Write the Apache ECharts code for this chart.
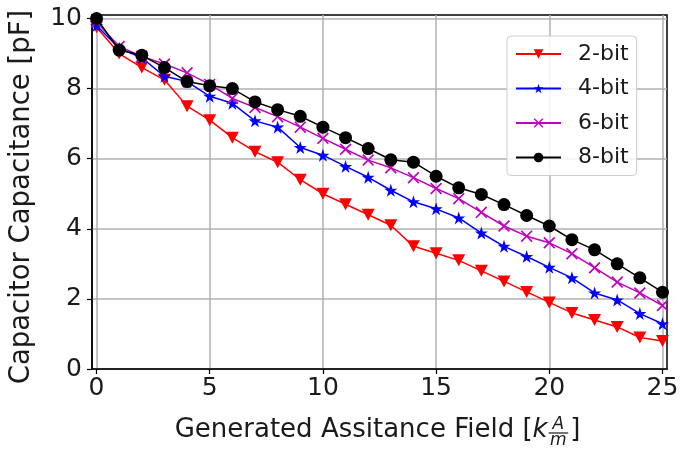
<!DOCTYPE html>
<html>
<head>
<meta charset="utf-8">
<script src="https://cdn.jsdelivr.net/npm/echarts@6/dist/echarts.min.js"></script>
<style>html,body{margin:0;padding:0;background:#fff}#c{width:691px;height:449px}</style>
</head>
<body>
<div id="c"></div>
<script>
// ---- data ----
const fieldValues = [0,1,2,3,4,5,6,7,8,9,10,11,12,13,14,15,16,17,18,19,20,21,22,23,24,25];
const bit2 = [9.75,9.0,8.6,8.25,7.5,7.1,6.6,6.2,5.9,5.4,5.0,4.7,4.4,4.1,3.5,3.3,3.1,2.8,2.5,2.2,1.9,1.6,1.4,1.2,0.9,0.8];
const bit4 = [9.8,9.15,8.88,8.35,8.2,7.78,7.58,7.08,6.9,6.32,6.1,5.78,5.47,5.1,4.77,4.57,4.31,3.88,3.5,3.21,2.9,2.6,2.17,1.97,1.58,1.29];
const bit6 = [9.9,9.2,8.92,8.7,8.45,8.12,7.72,7.46,7.2,6.9,6.58,6.27,5.96,5.74,5.46,5.15,4.86,4.47,4.08,3.79,3.6,3.29,2.89,2.48,2.17,1.81];
const bit8 = [10.0,9.1,8.95,8.6,8.2,8.08,8.0,7.62,7.4,7.21,6.9,6.6,6.29,5.97,5.9,5.5,5.17,4.98,4.69,4.38,4.08,3.69,3.4,3.0,2.6,2.19];
const seriesNames = ['2-bit','4-bit','6-bit','8-bit'];
const xTicks = [0,5,10,15,20,25];
const yTicks = [0,2,4,6,8,10];

const FONT = '"DejaVu Sans", sans-serif';
const starPath = 'path://M0,-1 L0.2245,-0.309 L0.951,-0.309 L0.363,0.118 L0.588,0.809 L0,0.382 L-0.588,0.809 L-0.363,0.118 L-0.951,-0.309 L-0.2245,-0.309 Z';
const d = 0.2;
const xPath = 'path://M-1,' + (-1 + d) + ' L' + (-1 + d) + ',-1 L0,' + (-d) + ' L' + (1 - d) + ',-1 L1,' + (-1 + d) +
  ' L' + d + ',0 L1,' + (1 - d) + ' L' + (1 - d) + ',1 L0,' + d + ' L' + (-1 + d) + ',1 L-1,' + (1 - d) + ' L' + (-d) + ',0 Z';

function pairs(arr){ return fieldValues.map((x,i)=>[x, arr[i]]); }

const styles = [
  {color:'#ff0000', symbol:'triangle', rotate:180, size:[13,12]},
  {color:'#0000ff', symbol:starPath, rotate:0, size:13},
  {color:'#bf00bf', symbol:xPath, rotate:0, size:12},
  {color:'#000000', symbol:'circle', rotate:0, size:13}
];
const dataSets = [bit2, bit4, bit6, bit8];

// title measurement for the x-axis label with fraction
const cv = document.createElement('canvas').getContext('2d');
function tw(t, font){ cv.font = font; return cv.measureText(t).width; }
const mainFont = '26px ' + FONT;
const italFont = 'italic 26px ' + FONT;
const fracFont = 'italic 17px ' + FONT;
const t1 = 'Generated Assitance Field [';
const w1 = tw(t1, mainFont), wk = tw('k', italFont), wf = Math.max(tw('A', fracFont), tw('m', fracFont)) + 3, wb = tw(']', mainFont);
const total = w1 + wk + wf + 2 + wb;
const cx = 377, x0 = cx - total/2, ty = 430;

const chart = echarts.init(document.getElementById('c'), null, {renderer:'canvas'});
chart.setOption({
  animation:false,
  backgroundColor:'#ffffff',
  grid:{left:91, right:24, top:15, bottom:80, show:true, borderColor:'#000', borderWidth:1.5, backgroundColor:'transparent'},
  xAxis:{
    type:'value', min:-0.2, max:25.2,
    axisLine:{show:true, onZero:false, lineStyle:{color:'#000', width:1.5}},
    axisTick:{show:true, inside:false, length:5, customValues:xTicks, lineStyle:{color:'#000', width:1.2}},
    axisLabel:{customValues:xTicks, color:'#1a1a1a', fontFamily:FONT, fontSize:25, margin:7},
    splitLine:{show:true, lineStyle:{color:'#b0b0b0', width:1.5}}
  },
  yAxis:{
    type:'value', min:0, max:10.1,
    name:'Capacitor Capacitance [pF]', nameLocation:'middle', nameGap:56,
    nameTextStyle:{fontFamily:FONT, fontSize:27.5, color:'#1a1a1a', padding:[0,10,0,0]},
    axisLine:{show:true, onZero:false, lineStyle:{color:'#000', width:1.5}},
    axisTick:{show:true, inside:false, length:5, customValues:yTicks, lineStyle:{color:'#000', width:1.2}},
    axisLabel:{customValues:yTicks, color:'#1a1a1a', fontFamily:FONT, fontSize:25, margin:10},
    splitLine:{show:true, lineStyle:{color:'#b0b0b0', width:1.5}}
  },
  legend:{
    orient:'vertical', left:507, top:36,
    padding:[7,8,7,8], itemGap:12.5, itemWidth:45, itemHeight:12,
    backgroundColor:'rgba(255,255,255,0.85)', borderColor:'#cccccc', borderWidth:1, borderRadius:4,
    textStyle:{fontFamily:FONT, fontSize:22, color:'#1a1a1a', lineHeight:22, padding:[0,0,0,12]},
    data:seriesNames
  },
  graphic:[
    {type:'text', x:x0, y:ty, style:{text:t1, font:mainFont, fill:'#1a1a1a', verticalAlign:'middle'}},
    {type:'text', x:x0 + w1, y:ty, style:{text:'k', font:italFont, fill:'#1a1a1a', verticalAlign:'middle'}},
    {type:'text', x:x0 + w1 + wk + wf/2 + 1, y:425, style:{text:'A', font:fracFont, fill:'#1a1a1a', align:'center', verticalAlign:'middle'}},
    {type:'line', shape:{x1:x0 + w1 + wk + 1, y1:433, x2:x0 + w1 + wk + wf + 1, y2:433}, style:{stroke:'#1a1a1a', lineWidth:1.2}},
    {type:'text', x:x0 + w1 + wk + wf/2 + 1, y:441, style:{text:'m', font:fracFont, fill:'#1a1a1a', align:'center', verticalAlign:'middle'}},
    {type:'text', x:x0 + w1 + wk + wf + 3, y:ty, style:{text:']', font:mainFont, fill:'#1a1a1a', verticalAlign:'middle'}}
  ],
  series: seriesNames.map((n,i)=>({
    name:n, type:'line', data:pairs(dataSets[i]),
    symbol:styles[i].symbol, symbolSize:styles[i].size, symbolRotate:styles[i].rotate,
    showAllSymbol:true, clip:false,
    lineStyle:{color:styles[i].color, width:1.5},
    itemStyle:{color:styles[i].color, borderWidth:0},
    z:2+i
  }))
});
</script>
</body>
</html>
